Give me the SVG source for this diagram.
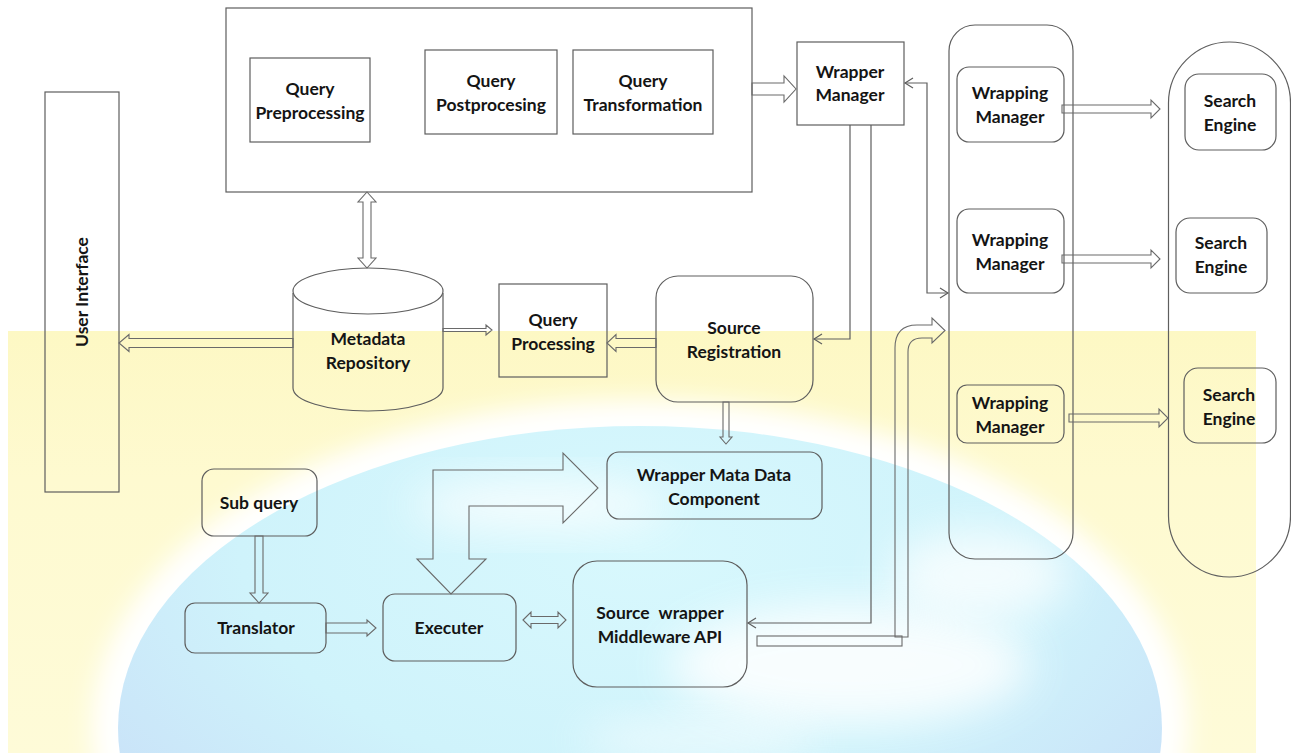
<svg xmlns="http://www.w3.org/2000/svg" width="1291" height="753" viewBox="0 0 1291 753">
<style>
.box{fill:none;stroke:#5e5e5e;stroke-width:1.2}
.ar{fill:none;stroke:#6a6a6a;stroke-width:1.1;stroke-linejoin:miter}
.ln{fill:none;stroke:#5e5e5e;stroke-width:1.2}
text{font-family:Lato,"Open Sans","Liberation Sans",sans-serif;font-weight:700;font-size:17.5px;fill:#141414;text-anchor:middle}
</style>
<defs>
<linearGradient id="yel" x1="0" y1="0" x2="0" y2="1">
<stop offset="0" stop-color="#fdf8c4"/>
<stop offset="0.35" stop-color="#fefad0"/>
<stop offset="1" stop-color="#fefbd8"/>
</linearGradient>
<radialGradient id="globeG" cx="0.5" cy="0.2" r="0.85">
<stop offset="0" stop-color="#d8f8fd"/>
<stop offset="0.45" stop-color="#cff3fb"/>
<stop offset="0.75" stop-color="#c9e2f8"/>
<stop offset="1" stop-color="#c6d2f6"/>
</radialGradient>
<filter id="blur" x="-20%" y="-20%" width="140%" height="140%"><feGaussianBlur stdDeviation="12"/></filter>
<filter id="blur2" x="-50%" y="-50%" width="200%" height="200%"><feGaussianBlur stdDeviation="22"/></filter>
</defs>

<g id="background">
<rect x="0" y="0" width="1291" height="753" fill="#ffffff"/>
<rect x="8" y="331" width="1248" height="422" fill="url(#yel)"/>
<ellipse cx="640" cy="728" rx="548" ry="328" fill="#ffffff" filter="url(#blur)"/>
<ellipse cx="640" cy="728" rx="522" ry="302" fill="url(#globeG)"/>
<ellipse cx="850" cy="665" rx="180" ry="60" fill="#ffffff" opacity="0.85" filter="url(#blur2)"/>
<ellipse cx="540" cy="505" rx="130" ry="24" fill="#ffffff" opacity="0.8" filter="url(#blur2)"/>
<ellipse cx="980" cy="575" rx="90" ry="45" fill="#ffffff" opacity="0.75" filter="url(#blur2)"/>
<ellipse cx="700" cy="740" rx="120" ry="20" fill="#ffffff" opacity="0.6" filter="url(#blur2)"/>
</g>

<g id="query-engine">
<rect class="box" x="226" y="8" width="526" height="184"/>
</g>
<g id="query-preprocessing">
<rect class="box" x="250" y="58" width="120" height="84"/>
<text x="310" y="95">Query</text>
<text x="310" y="119">Preprocessing</text>
</g>
<g id="query-postprocessing">
<rect class="box" x="425" y="50" width="132" height="84"/>
<text x="491" y="87">Query</text>
<text x="491" y="111">Postprocesing</text>
</g>
<g id="query-transformation">
<rect class="box" x="573" y="50" width="140" height="84"/>
<text x="643" y="87">Query</text>
<text x="643" y="111">Transformation</text>
</g>
<g id="wrapper-manager">
<rect class="box" x="797" y="42" width="107" height="83"/>
<text x="850" y="78">Wrapper</text>
<text x="850" y="101">Manager</text>
</g>
<g id="wrapping-column">
<rect class="box" x="949" y="25" width="124" height="534" rx="26"/>
</g>
<g id="wrapping-manager-1">
<rect class="box" x="957" y="67" width="107" height="75" rx="12"/>
<text x="1010" y="99">Wrapping</text>
<text x="1010" y="123">Manager</text>
</g>
<g id="wrapping-manager-2">
<rect class="box" x="957" y="209" width="107" height="84" rx="12"/>
<text x="1010" y="246">Wrapping</text>
<text x="1010" y="270">Manager</text>
</g>
<g id="wrapping-manager-3">
<rect class="box" x="957" y="385" width="107" height="58" rx="10"/>
<text x="1010" y="409">Wrapping</text>
<text x="1010" y="433">Manager</text>
</g>
<g id="search-column">
<rect class="box" x="1168.5" y="42" width="122" height="535" rx="61"/>
</g>
<g id="search-engine-1">
<rect class="box" x="1185" y="74" width="91" height="76" rx="14"/>
<text x="1230" y="107">Search</text>
<text x="1230" y="131">Engine</text>
</g>
<g id="search-engine-2">
<rect class="box" x="1176" y="218" width="91" height="75" rx="14"/>
<text x="1221" y="249">Search</text>
<text x="1221" y="273">Engine</text>
</g>
<g id="search-engine-3">
<rect class="box" x="1184" y="368" width="92" height="75" rx="14"/>
<text x="1229" y="401">Search</text>
<text x="1229" y="425">Engine</text>
</g>
<g id="user-interface">
<rect class="box" x="45" y="92" width="74" height="400"/>
<text x="82" y="292" transform="rotate(-90 82 292)" dy="6">User Interface</text>
</g>
<g id="metadata-repository">
<path class="box" d="M293,293 L293,388 A75,23 0 0 0 443,388 L443,293"/>
<ellipse class="box" cx="368" cy="291" rx="75" ry="23"/>
<text x="368" y="345">Metadata</text>
<text x="368" y="369">Repository</text>
</g>
<g id="query-processing">
<rect class="box" x="499" y="284" width="108" height="93"/>
<text x="553" y="326">Query</text>
<text x="553" y="350">Processing</text>
</g>
<g id="source-registration">
<rect class="box" x="656" y="276" width="157" height="126" rx="22"/>
<text x="734" y="334">Source</text>
<text x="734" y="358">Registration</text>
</g>
<g id="wrapper-metadata-component">
<rect class="box" x="607" y="452" width="215" height="67" rx="12"/>
<text x="714" y="481">Wrapper Mata Data</text>
<text x="714" y="505">Component</text>
</g>
<g id="sub-query">
<rect class="box" x="202" y="469" width="115" height="67" rx="12"/>
<text x="259" y="509">Sub query</text>
</g>
<g id="translator">
<rect class="box" x="185" y="603" width="141" height="50" rx="10"/>
<text x="256" y="634">Translator</text>
</g>
<g id="executer">
<rect class="box" x="383" y="594" width="133" height="67" rx="12"/>
<text x="449" y="634">Executer</text>
</g>
<g id="source-wrapper-middleware">
<rect class="box" x="573" y="561" width="174" height="126" rx="24"/>
<text x="660" y="619" word-spacing="5">Source wrapper</text>
<text x="660" y="643">Middleware API</text>
</g>

<g id="connectors">
<polygon class="ar" points="752,83 784,83 784,76 796,89 784,102 784,95 752,95"/>
<polygon class="ar" points="1062,105 1151,105 1151,100 1160,109 1151,118 1151,113 1062,113"/>
<polygon class="ar" points="1062,255 1151,255 1151,250 1160,259 1151,268 1151,263 1062,263"/>
<polygon class="ar" points="1069,414 1159,414 1159,409 1168,418 1159,427 1159,422 1069,422"/>
<polygon class="ar" points="293,338.5 129,338.5 129,334.5 119,343 129,351.5 129,347.5 293,347.5"/>
<polygon class="ar" points="443,328.5 486,328.5 486,325 492,330 486,335 486,331.5 443,331.5"/>
<polygon class="ar" points="656,338.5 616,338.5 616,334.5 607,343 616,351.5 616,347.5 656,347.5"/>
<polygon class="ar" points="367,192 376,202 371,202 371,258 376,258 367,268 358,258 363,258 363,202 358,202"/>
<polygon class="ar" points="723,402 729,402 729,437 732,437 726,444 720,437 723,437"/>
<polygon class="ar" points="255,536 263,536 263,593 268,593 259,603 250,593 255,593"/>
<polygon class="ar" points="326,623 367,623 367,620 376,628 367,636 367,633 326,633"/>
<polygon class="ar" points="523,620 531,612 531,616.5 558,616.5 558,612 566,620 558,628 558,623.5 531,623.5 531,628"/>
<polygon class="ar" points="417,559 433,559 433,470 563,470 563,453 598,488 563,523 563,506 469,506 469,559 486,559 451,594"/>
<path class="ar" d="M895,637 L895,348 Q895,325 917,325 L932,325 L932,318 L945,330.5 L932,343 L932,338 L922,338 Q908,338 908,352 L908,637 Z"/>
<rect class="ar" x="757" y="636" width="145" height="10"/>
<polyline class="ln" points="850,125 850,339 814,339"/>
<polyline class="ln" points="822,334 814,339 822,344"/>
<polyline class="ln" points="871,125 871,623 748,623"/>
<polyline class="ln" points="756,618 748,623 756,628"/>
<polyline class="ln" points="905,83 927,83 927,293 948,293"/>
<polyline class="ln" points="913,78 905,83 913,88"/>
<polyline class="ln" points="940,288 948,293 940,298"/>
</g>
</svg>
